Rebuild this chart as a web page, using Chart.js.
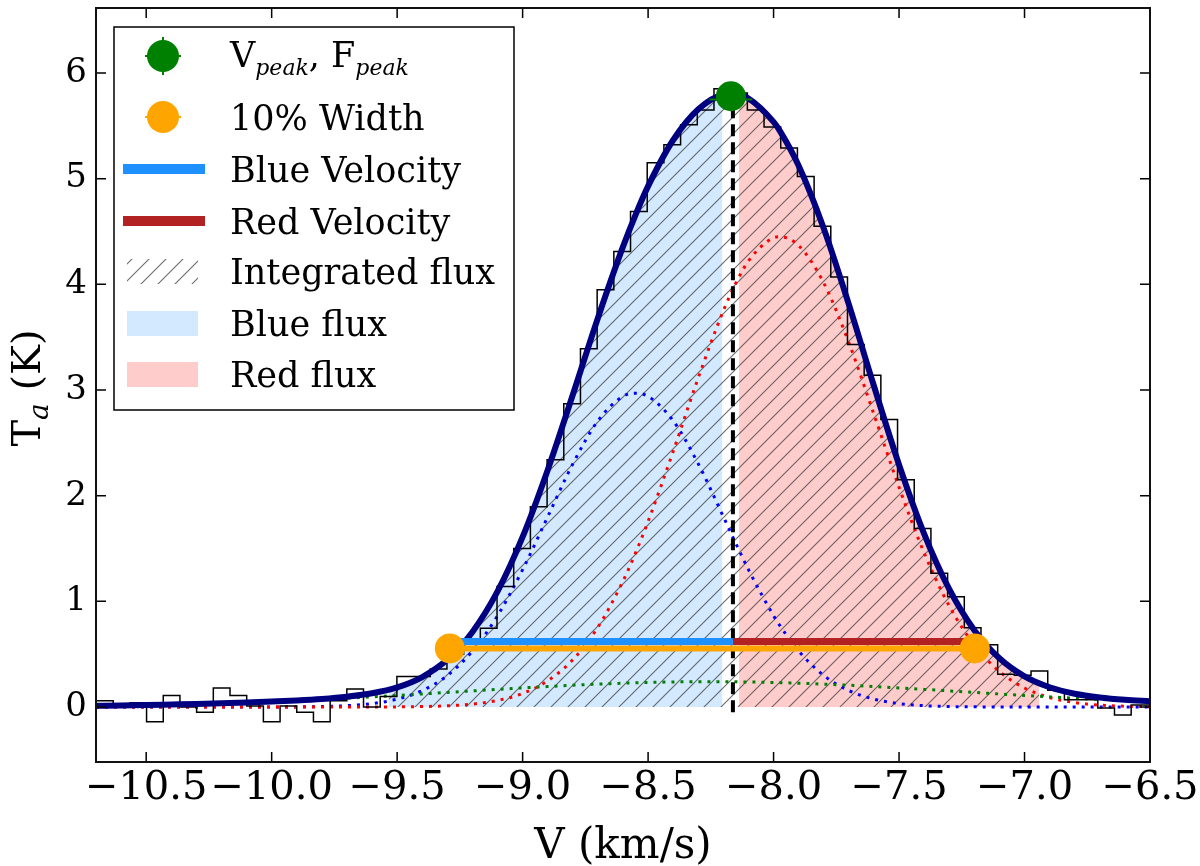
<!DOCTYPE html>
<html><head><meta charset="utf-8">
<script src="https://cdn.jsdelivr.net/npm/chart.js@4.4.1/dist/chart.umd.min.js"></script>
<style>html,body{margin:0;padding:0;background:#fff;}canvas{display:block;}</style>
</head><body>
<canvas id="c" width="1200" height="866"></canvas>
<script>
// ---------- data ----------
const xTicks = [-10.5, -10.0, -9.5, -9.0, -8.5, -8.0, -7.5, -7.0, -6.5];
const yTicks = [0, 1, 2, 3, 4, 5, 6];

// spectrum channels (centres, km/s) and antenna temperature (K)
const chanV = [
 -10.731,-10.665,-10.598,-10.532,-10.465,-10.399,-10.332,-10.266,-10.199,-10.133,
 -10.066,-10.000,-9.933,-9.867,-9.800,-9.734,-9.667,-9.601,-9.534,-9.468,
 -9.401,-9.335,-9.268,-9.202,-9.135,-9.069,-9.002,-8.936,-8.869,-8.803,
 -8.736,-8.670,-8.603,-8.537,-8.470,-8.404,-8.337,-8.271,-8.204,-8.138,
 -8.071,-8.005,-7.938,-7.872,-7.805,-7.739,-7.672,-7.606,-7.539,-7.473,
 -7.406,-7.340,-7.273,-7.207,-7.140,-7.074,-7.007,-6.941,-6.874,-6.808,
 -6.741,-6.675,-6.608,-6.542,-6.475];
const chanT = [
 0.06,0.06,0.00,0.04,-0.14,0.11,0.00,-0.05,0.18,0.11,
 0.01,-0.14,0.01,-0.05,-0.14,0.06,0.17,0.00,0.10,0.29,
 0.29,0.36,0.50,0.62,0.745,1.14,1.50,1.895,2.34,2.87,
 3.39,3.95,4.31,4.69,5.15,5.32,5.51,5.65,5.85,5.81,
 5.65,5.49,5.29,5.02,4.55,4.07,3.43,3.14,2.72,2.15,
 1.69,1.265,1.044,0.75,0.59,0.31,0.30,0.34,0.16,0.07,
 0.07,-0.01,-0.076,0.02,0.02];

// fitted curves sampled along velocity
const fitV = [-10.7,-10.6,-10.5,-10.4,-10.3,-10.2,-10.1,-10.0,-9.9,-9.8,-9.7,-9.6,-9.5,-9.4,-9.3,-9.2,-9.1,-9.0,-8.9,-8.8,-8.7,-8.6,-8.55,-8.5,-8.4,-8.3,-8.2,-8.15,-8.1,-8.0,-7.975,-7.9,-7.8,-7.7,-7.6,-7.5,-7.4,-7.3,-7.2,-7.1,-7.0,-6.9,-6.8,-6.7,-6.6,-6.5];
const fitBlue = [0,0,0,0,0,0,0.0002,0.0006,0.0017,0.005,0.0134,0.033,0.0746,0.1556,0.299,0.5297,0.864,1.300,1.801,2.301,2.709,2.940,2.970,2.940,2.709,2.301,1.801,1.546,1.300,0.864,0.771,0.530,0.299,0.156,0.075,0.033,0.013,0.005,0.002,0.0006,0.0002,0,0,0,0,0];
const fitRed = [0,0,0,0,0,0,0,0,0,0,0.0002,0.0006,0.0017,0.0047,0.0119,0.0282,0.0623,0.1286,0.2483,0.4479,0.7557,1.1915,1.4588,1.7562,2.4197,3.1162,3.7513,4.0133,4.2215,4.4406,4.45,4.3664,4.0133,3.4479,2.7691,2.079,1.4588,0.9568,0.5868,0.3363,0.1802,0.0902,0.0423,0.0185,0.0076,0.0029];
const fitGreen = [0.012,0.0152,0.0191,0.0238,0.0294,0.0359,0.0434,0.0519,0.0615,0.0722,0.0839,0.0965,0.1099,0.1239,0.1383,0.1529,0.1672,0.1812,0.1943,0.2063,0.2169,0.2257,0.2294,0.2326,0.2373,0.2397,0.2397,0.2388,0.2373,0.2326,0.2311,0.2257,0.2169,0.2063,0.1943,0.1812,0.1672,0.1529,0.1383,0.1239,0.1099,0.0965,0.0839,0.0722,0.0615,0.0519];
const fitTotal = [0.012,0.015,0.019,0.024,0.029,0.036,0.044,0.053,0.063,0.077,0.098,0.130,0.186,0.284,0.449,0.711,1.094,1.610,2.244,2.955,3.682,4.357,4.658,4.929,5.366,5.657,5.792,5.798,5.759,5.537,5.452,5.122,4.529,3.810,3.038,2.293,1.639,1.115,0.727,0.461,0.290,0.187,0.126,0.091,0.069,0.055];

// flux regions
const blueFluxV = [-9.534,-9.5,-9.4,-9.3,-9.2,-9.1,-9.0,-8.9,-8.8,-8.7,-8.6,-8.55,-8.5,-8.4,-8.3,-8.204];
const blueFluxT = [0.164,0.186,0.284,0.449,0.711,1.094,1.610,2.244,2.955,3.682,4.357,4.658,4.929,5.366,5.657,5.790];
const redFluxV = [-8.138,-8.1,-8.0,-7.975,-7.9,-7.8,-7.7,-7.6,-7.5,-7.4,-7.3,-7.2,-7.1,-7.0,-6.941];
const redFluxT = [5.793,5.759,5.537,5.452,5.122,4.529,3.810,3.038,2.293,1.639,1.115,0.727,0.461,0.290,0.223];

// markers
const peakV = [-8.17], peakT = [5.78];
const peakErrV = [-8.255, -8.085], peakErrT = [5.75, 5.75];
const peakLineV = [-8.162, -8.162], peakLineT = [-0.05, 5.76];
const widthV = [-9.29, -7.198], widthT = [0.555, 0.555];
const blueVelV = [-9.29, -8.162], redVelV = [-8.162, -7.198], velT = [0.62, 0.62];

const legendLabels = [['V','peak',', F','peak'], '10% Width', 'Blue Velocity', 'Red Velocity', 'Integrated flux', 'Blue flux', 'Red flux'];

// ---------- styles ----------
const NAVY='#000080', DBLUE='#1E90FF', FRED='#B22222', ORANGE='#FFA500', GREEN='#008000';
const BLUEFILL='rgba(30,144,255,0.2)', REDFILL='rgba(255,0,0,0.2)';
const SERIF='"DejaVu Serif"';

function makeHatch(){
  const s=17, c=document.createElement('canvas'); c.width=s; c.height=s;
  const g=c.getContext('2d');
  g.strokeStyle='rgba(60,60,60,0.75)'; g.lineWidth=1.1;
  g.beginPath();
  g.moveTo(0,s); g.lineTo(s,0);
  g.moveTo(-3,3); g.lineTo(3,-3);
  g.moveTo(s-3,s+3); g.lineTo(s+3,s-3);
  g.stroke();
  return g.createPattern(c,'repeat');
}
const HATCH = makeHatch();

const pts = (xs, ys) => xs.map((x,i)=>({x:x, y:ys[i]}));
const T = 'rgba(0,0,0,0)';

const datasets = [
  {data:pts(blueFluxV,blueFluxT), borderColor:T, borderWidth:1, backgroundColor:BLUEFILL, fill:'origin', pointRadius:0, cubicInterpolationMode:'monotone', order:12},
  {data:pts(redFluxV,redFluxT), borderColor:T, borderWidth:1, backgroundColor:REDFILL, fill:'origin', pointRadius:0, cubicInterpolationMode:'monotone', order:11},
  {data:pts(blueFluxV.concat(redFluxV), blueFluxT.concat(redFluxT)), borderColor:T, borderWidth:1, backgroundColor:HATCH, fill:'origin', pointRadius:0, cubicInterpolationMode:'monotone', order:10},
  {data:pts(fitV,fitBlue), borderColor:'#0000FF', borderWidth:3, borderDash:[3,6], pointRadius:0, fill:false, cubicInterpolationMode:'monotone', order:9},
  {data:pts(fitV,fitRed), borderColor:'#FF0000', borderWidth:3, borderDash:[3,6], pointRadius:0, fill:false, cubicInterpolationMode:'monotone', order:8},
  {data:pts(fitV,fitGreen), borderColor:GREEN, borderWidth:3, borderDash:[3,6], pointRadius:0, fill:false, cubicInterpolationMode:'monotone', order:7},
  {data:pts(chanV,chanT), borderColor:'#000', borderWidth:1.5, stepped:'middle', pointRadius:0, fill:false, order:6},
  {data:pts(fitV,fitTotal), borderColor:NAVY, borderWidth:6, pointRadius:0, fill:false, cubicInterpolationMode:'monotone', order:5},
  {data:pts(peakLineV,peakLineT), borderColor:'#000', borderWidth:4, borderDash:[12,6], pointRadius:0, fill:false, order:4},
  {data:pts(blueVelV,velT), borderColor:DBLUE, borderWidth:7, pointRadius:0, fill:false, order:3},
  {data:pts(redVelV,velT), borderColor:FRED, borderWidth:7, pointRadius:0, fill:false, order:3},
  {data:pts(widthV,widthT), borderColor:ORANGE, borderWidth:6, pointRadius:0, fill:false, order:2},
  {data:pts(widthV,widthT), showLine:false, pointRadius:15, pointBackgroundColor:ORANGE, pointBorderWidth:0, order:1},
  {data:pts(peakErrV,peakErrT), borderColor:GREEN, borderWidth:2, pointRadius:0, fill:false, order:0.5},
  {data:pts(peakV,peakT), showLine:false, pointRadius:15, pointBackgroundColor:GREEN, pointBorderWidth:0, order:0}
];

const fmt = v => (v < 0 ? '\u2212' : '') + Math.abs(v).toFixed(1);

const deco = {
  id:'deco',
  afterDraw(chart){
    const ctx=chart.ctx, a=chart.chartArea, xs=chart.scales.x, ys=chart.scales.y;
    ctx.save();
    // inward ticks on all sides
    ctx.strokeStyle='#000'; ctx.lineWidth=1.5; ctx.beginPath();
    xs.ticks.forEach(t=>{ const p=xs.getPixelForValue(t.value);
      ctx.moveTo(p,a.bottom); ctx.lineTo(p,a.bottom-10);
      ctx.moveTo(p,a.top); ctx.lineTo(p,a.top+10); });
    ys.ticks.forEach(t=>{ const p=ys.getPixelForValue(t.value);
      ctx.moveTo(a.left,p); ctx.lineTo(a.left+10,p);
      ctx.moveTo(a.right,p); ctx.lineTo(a.right-10,p); });
    ctx.stroke();
    // frame
    ctx.lineWidth=2; ctx.strokeStyle='#111';
    ctx.strokeRect(a.left,a.top,a.right-a.left,a.bottom-a.top);
    // axis titles
    ctx.fillStyle='#000';
    ctx.font='42px '+SERIF; ctx.textAlign='center'; ctx.textBaseline='alphabetic';
    ctx.fillText('V (km/s)', (a.left+a.right)/2, 858);
    ctx.save();
    ctx.translate(40, 388); ctx.rotate(-Math.PI/2);
    const f1='40px '+SERIF, f2='italic 28px '+SERIF;
    ctx.font=f1; const wT=ctx.measureText('T').width, wK=ctx.measureText(' (K)').width;
    ctx.font=f2; const wa=ctx.measureText('a').width;
    let sx=-(wT+wa+wK)/2; ctx.textAlign='left';
    ctx.font=f1; ctx.fillText('T', sx, 0);
    ctx.font=f2; ctx.fillText('a', sx+wT, 8);
    ctx.font=f1; ctx.fillText(' (K)', sx+wT+wa, 0);
    ctx.restore();
    // legend
    const L={x0:114,y0:27,x1:514,y1:410};
    ctx.fillStyle='#fff'; ctx.fillRect(L.x0,L.y0,L.x1-L.x0,L.y1-L.y0);
    ctx.strokeStyle='#000'; ctx.lineWidth=1.5; ctx.strokeRect(L.x0,L.y0,L.x1-L.x0,L.y1-L.y0);
    const rows=[56,117,169,221,271,323,374];
    const mx=163;
    // row 0: peak marker with error bars
    ctx.strokeStyle=GREEN; ctx.lineWidth=2; ctx.beginPath();
    ctx.moveTo(mx-18,rows[0]); ctx.lineTo(mx+18,rows[0]);
    ctx.moveTo(mx,rows[0]-19); ctx.lineTo(mx,rows[0]+19); ctx.stroke();
    ctx.fillStyle=GREEN; ctx.beginPath(); ctx.arc(mx,rows[0],16,0,2*Math.PI); ctx.fill();
    // row 1: width marker
    ctx.strokeStyle=ORANGE; ctx.beginPath(); ctx.moveTo(mx-18,rows[1]); ctx.lineTo(mx+18,rows[1]); ctx.stroke();
    ctx.fillStyle=ORANGE; ctx.beginPath(); ctx.arc(mx,rows[1],16,0,2*Math.PI); ctx.fill();
    // rows 2,3: lines
    ctx.lineWidth=10; ctx.lineCap='butt';
    ctx.strokeStyle=DBLUE; ctx.beginPath(); ctx.moveTo(123,rows[2]); ctx.lineTo(205,rows[2]); ctx.stroke();
    ctx.strokeStyle=FRED; ctx.beginPath(); ctx.moveTo(123,rows[3]); ctx.lineTo(205,rows[3]); ctx.stroke();
    // rows 4-6: patches
    ctx.fillStyle=HATCH; ctx.fillRect(127,rows[4]-12,71,25);
    ctx.fillStyle=BLUEFILL; ctx.fillRect(127,rows[5]-12,71,25);
    ctx.fillStyle=REDFILL; ctx.fillRect(127,rows[6]-12,71,25);
    // texts
    ctx.fillStyle='#000'; ctx.textAlign='left'; ctx.textBaseline='alphabetic';
    const fm='35px '+SERIF, fs='italic 22px '+SERIF;
    let tx=230; const p=legendLabels[0];
    for(let i=0;i<p.length;i++){
      const sub=(i%2===1);
      ctx.font=sub?fs:fm;
      ctx.fillText(p[i], tx, sub?rows[0]+19:rows[0]+11);
      tx+=ctx.measureText(p[i]).width;
    }
    ctx.font=fm;
    for(let i=1;i<legendLabels.length;i++){
      ctx.fillText(legendLabels[i], 230, rows[i]+13);
    }
    ctx.restore();
  }
};

new Chart(document.getElementById('c'), {
  type:'line',
  data:{datasets:datasets},
  options:{
    responsive:false, animation:false,
    layout:{autoPadding:false, padding:{left:0,right:50,top:8,bottom:0}},
    plugins:{legend:{display:false}, tooltip:{enabled:false}},
    elements:{line:{tension:0}},
    scales:{
      x:{type:'linear', min:-10.7, max:-6.5,
         grid:{display:false, drawTicks:false}, border:{display:false},
         ticks:{font:{family:'DejaVu Serif', size:40}, color:'#000', padding:3, maxRotation:0, minRotation:0, autoSkip:false, callback:v=>fmt(v)},
         afterBuildTicks:s=>{ s.ticks = xTicks.map(v=>({value:v})); },
         afterFit:s=>{ s.height=104; s.paddingLeft=0; s.paddingRight=0; }},
      y:{type:'linear', min:-0.52, max:6.615,
         grid:{display:false, drawTicks:false}, border:{display:false},
         ticks:{font:{family:'DejaVu Serif', size:34}, color:'#000', padding:9, autoSkip:false, callback:v=>v.toFixed(0)},
         afterBuildTicks:s=>{ s.ticks = yTicks.map(v=>({value:v})); },
         afterFit:s=>{ s.width=96; s.paddingTop=0; s.paddingBottom=0; }}
    }
  },
  plugins:[deco]
});
</script>
</body></html>
